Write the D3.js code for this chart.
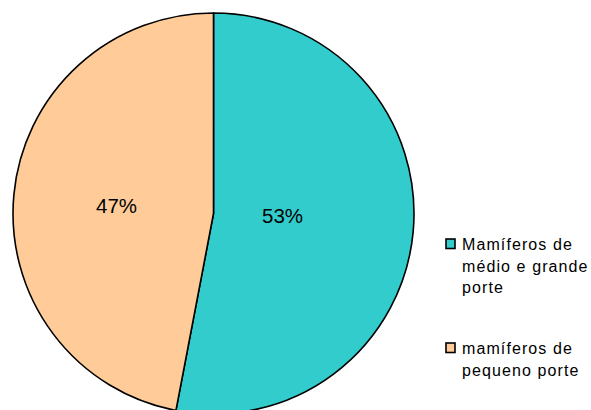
<!DOCTYPE html>
<html><head><meta charset="utf-8">
<script src="https://cdn.jsdelivr.net/npm/d3@7"></script>
<style>body{margin:0;background:#fff}svg{display:block}</style>
</head><body><svg id="c" width="591" height="410"></svg>
<script>
const categories = ["Mamíferos de médio e grande porte", "mamíferos de pequeno porte"];
const values = [53, 47];
const labels = ["53%", "47%"];
const colors = ["#33CCCC", "#FFCC99"];
const legendLines = [["Mamíferos de", "médio e grande", "porte"], ["mamíferos de", "pequeno porte"]];

const svg = d3.select("#c");
const cx = 213.5, cy = 213.5, r = 200.5;
const pie = d3.pie().sort(null).value(d => d)(values);
const arc = d3.arc().innerRadius(0).outerRadius(r);
const g = svg.append("g").attr("transform", `translate(${cx},${cy})`);
g.selectAll("path").data(pie).join("path")
  .attr("d", arc).attr("fill", (d, i) => colors[i])
  .attr("stroke", "#000").attr("stroke-width", 1.6).attr("stroke-linejoin", "round");

const labelPos = [[69, 9], [-97, -1]];
g.selectAll("text.lbl").data(pie).join("text").attr("class", "lbl")
  .attr("x", (d, i) => labelPos[i][0]).attr("y", (d, i) => labelPos[i][1])
  .attr("text-anchor", "middle")
  .attr("font-family", "Liberation Sans, Arial, sans-serif").attr("font-size", 20.5)
  .text((d, i) => labels[i]);

const leg = svg.append("g");
const legTop = [239, 343];
categories.forEach((c, i) => {
  leg.append("rect").attr("x", 446).attr("y", legTop[i]).attr("width", 9).attr("height", 9.5)
    .attr("fill", colors[i]).attr("stroke", "#000").attr("stroke-width", 1.6);
  legendLines[i].forEach((t, j) => {
    leg.append("text").attr("x", 462).attr("y", legTop[i] + 11 + j * 21.5)
      .attr("font-family", "Liberation Sans, Arial, sans-serif").attr("font-size", 16)
      .attr("letter-spacing", 1.1).text(t);
  });
});
</script></body></html>
